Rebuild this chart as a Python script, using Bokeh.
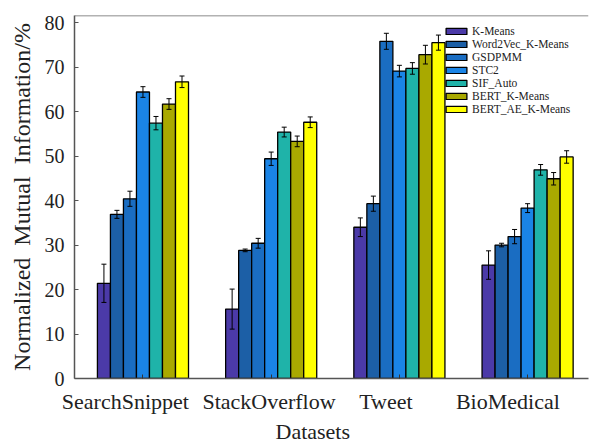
import numpy as np
from bokeh.plotting import figure
from bokeh.models import (Range1d, FixedTicker, Legend, LegendItem, Span,
                          Whisker, ColumnDataSource, Title, TeeHead)
from bokeh.transform import dodge
from bokeh.embed import file_html
from bokeh.resources import INLINE

# ---------------- data ----------------
datasets = ["SearchSnippet", "StackOverflow", "Tweet", "BioMedical"]
methods = ["K-Means", "Word2Vec_K-Means", "GSDPMM", "STC2", "SIF_Auto",
           "BERT_K-Means", "BERT_AE_K-Means"]

kmeans = [21.4, 15.6, 34.0, 25.5]
kmeans_err = [4.3, 4.5, 2.1, 3.2]
word2vec = [36.9, 28.8, 39.3, 30.0]
word2vec_err = [0.9, 0.3, 1.7, 0.4]
gsdpmm = [40.4, 30.4, 75.8, 31.9]
gsdpmm_err = [1.7, 1.1, 1.8, 1.6]
stc2 = [64.4, 49.4, 69.1, 38.3]
stc2_err = [1.2, 1.5, 1.3, 1.0]
sif_auto = [57.4, 55.4, 69.7, 46.9]
sif_auto_err = [1.5, 1.1, 1.3, 1.2]
bert_k = [61.7, 53.3, 72.8, 44.9]
bert_k_err = [1.2, 1.2, 2.1, 1.4]
bert_ae = [66.7, 57.6, 75.5, 49.8]
bert_ae_err = [1.3, 1.2, 1.7, 1.4]

y_ticks = [0, 10, 20, 30, 40, 50, 60, 70, 80]

# ---------------- style ----------------
colors = ["#4B3AA8", "#1C5FA6", "#1A6DC2", "#1A84E6", "#1FB3A9", "#A9A900", "#FFFF00"]
FONT = "Liberation Serif"
bar_w = 0.1015
label_shift = [-0.137, -0.017, -0.105, -0.154]
Y_END = 81.6
SP = "\u00a0\u00a0"

values = [kmeans, word2vec, gsdpmm, stc2, sif_auto, bert_k, bert_ae]
errors = [kmeans_err, word2vec_err, gsdpmm_err, stc2_err, sif_auto_err, bert_k_err, bert_ae_err]

xpos = list(range(1, len(datasets) + 1))

p = figure(width=595, height=443, output_backend="svg", toolbar_location=None,
           x_range=Range1d(0.466, 4.475), y_range=Range1d(0, Y_END),
           min_border_left=74, min_border_right=7, min_border_top=15,
           min_border_bottom=63)
p.xgrid.visible = False
p.ygrid.visible = False
p.outline_line_color = None
p.background_fill_color = "white"

items = []
for i, (name, vals, errs, col) in enumerate(zip(methods, values, errors, colors)):
    off = (i - 3) * bar_w
    src = ColumnDataSource(dict(
        x=xpos, top=vals,
        upper=[v + e for v, e in zip(vals, errs)],
        lower=[v - e for v, e in zip(vals, errs)],
    ))
    r = p.vbar(x=dodge("x", off), top="top", width=bar_w, source=src,
               fill_color=col, line_color="black", line_width=1.3)
    w = Whisker(base=dodge("x", off), upper="upper", lower="lower", source=src,
                line_color="black", line_width=1, level="overlay",
                upper_head=TeeHead(size=5, line_color="black", line_width=1),
                lower_head=TeeHead(size=5, line_color="black", line_width=1))
    p.add_layout(w)
    items.append(LegendItem(label=name, renderers=[r]))

# y axis
ya = p.yaxis[0]
ya.ticker = FixedTicker(ticks=y_ticks)
ya.minor_tick_line_color = None
ya.major_tick_in = 4
ya.major_tick_out = 0
ya.axis_line_color = "#555555"
ya.axis_line_width = 1.5
ya.major_tick_line_color = "#555555"
ya.major_label_text_font = FONT
ya.major_label_text_font_size = "20px"
ya.major_label_text_color = "#222222"
ya.major_label_standoff = 10
ya.axis_label = "Normalized" + SP + "Mutual" + SP + "Information/%"
ya.axis_label_text_font = FONT
ya.axis_label_text_font_size = "24px"
ya.axis_label_text_font_style = "normal"
ya.axis_label_text_color = "#222222"
ya.axis_label_standoff = 7

# x axis: labels (shifted), minor ticks at group centres
lab_pos = [x + s for x, s in zip(xpos, label_shift)]
xa = p.xaxis[0]
xa.ticker = FixedTicker(ticks=lab_pos, minor_ticks=xpos)
xa.major_label_overrides = {lp: d for lp, d in zip(lab_pos, datasets)}
xa.major_tick_line_color = None
xa.minor_tick_in = 4
xa.minor_tick_out = 0
xa.minor_tick_line_color = "#333333"
xa.axis_line_color = "#555555"
xa.axis_line_width = 1.5
xa.major_label_standoff = 4
xa.major_label_text_font = FONT
xa.major_label_text_font_size = "22px"
xa.major_label_text_color = "#222222"

# top frame line
p.add_layout(Span(location=Y_END, dimension="width", line_color="#666666",
                  line_width=1.5))

p.add_layout(Title(text="Datasets", align="left", offset=201,
                   text_font=FONT, text_font_size="22px",
                   text_font_style="normal", text_color="#222222",
                   standoff=0), "below")

legend = Legend(items=items, location=(369, 263), border_line_color=None,
                background_fill_alpha=0.0,
                padding=0, margin=0, spacing=1, glyph_width=26, glyph_height=8,
                label_standoff=3, label_text_font=FONT,
                label_text_font_size="11.5px", label_height=10,
                label_text_color="#222222")
p.add_layout(legend)

open("out.html", "w").write(file_html(p, INLINE))
